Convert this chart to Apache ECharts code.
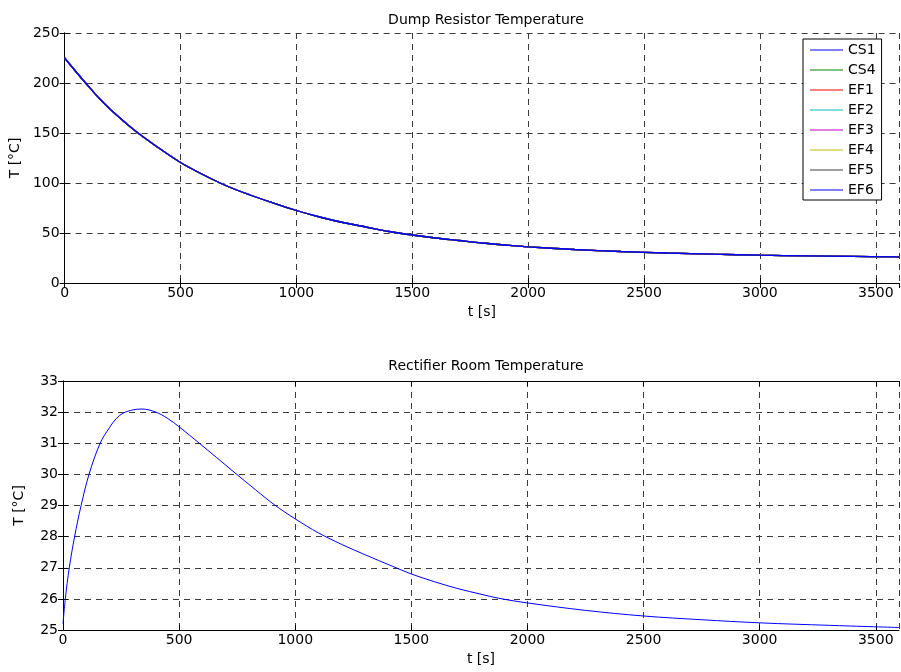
<!DOCTYPE html>
<html>
<head>
<meta charset="utf-8">
<script src="https://cdn.jsdelivr.net/npm/echarts@6/dist/echarts.min.js"></script>
<style>html,body{margin:0;padding:0;background:#fff;}#c{width:901px;height:672px;}</style>
</head>
<body>
<div id="c"></div>
<script>
// ---- data ----
const tTop = [0, 50, 100, 150, 200, 300, 400, 500, 600, 700, 800, 900, 1000, 1100, 1200, 1300, 1400, 1500, 1600, 1700, 1800, 1900, 2000, 2200, 2400, 2600, 2800, 3000, 3200, 3400, 3600];
const dumpTemp = [225, 211, 197.5, 184.5, 173, 153, 136, 120.5, 108, 97, 88, 80, 72.5, 66, 60.5, 56, 51.5, 48, 45, 42.5, 40, 38, 36.2, 33.5, 31.5, 30, 28.8, 27.8, 27.1, 26.6, 26.2];
const tBottom = [0, 10, 27, 50, 78, 112, 160, 200, 230, 260, 300, 340, 400, 450, 500, 587, 660, 745, 830, 909, 1000, 1100, 1200, 1300, 1418, 1500, 1600, 1700, 1800, 1876, 2000, 2250, 2500, 2750, 3000, 3300, 3600];
const roomTemp = [25.2, 26.0, 27.0, 28.0, 29.0, 30.0, 31.0, 31.5, 31.8, 31.97, 32.07, 32.1, 32.0, 31.8, 31.53, 31.0, 30.55, 30.02, 29.5, 29.03, 28.57, 28.12, 27.75, 27.42, 27.05, 26.8, 26.55, 26.33, 26.15, 26.02, 25.87, 25.63, 25.45, 25.33, 25.23, 25.15, 25.08];
const seriesNames = ['CS1', 'CS4', 'EF1', 'EF2', 'EF3', 'EF4', 'EF5', 'EF6'];
const seriesColors = ['#0000ff', '#008000', '#ff0000', '#00bfbf', '#bf00bf', '#bfbf00', '#404040', '#0000ff'];
const xTicksInterval = 500;
const yTopTicks = {min: 0, max: 250, interval: 50};
const yBotTicks = {min: 25, max: 33, interval: 1};

const FONT = 'DejaVu Sans, Liberation Sans, sans-serif';
const FS = 14;
const dumpPairs = tTop.map((t, i) => [t, dumpTemp[i]]);
const roomPairs = tBottom.map((t, i) => [t, roomTemp[i]]);

const gridLine = {show: true, lineStyle: {color: '#3a3a3a', type: [6, 5], width: 1}};
const plain = v => String(v);
function xAx(gi, showName) {
  return {
    type: 'value', gridIndex: gi, min: 0, max: 3600, interval: xTicksInterval,
    name: showName ? 't [s]' : '', nameLocation: 'middle', nameGap: 22,
    nameTextStyle: {color: '#000', fontSize: FS, fontFamily: FONT},
    axisLine: {show: true, lineStyle: {color: '#000', width: 1}},
    axisTick: {show: true, inside: true, length: 5, lineStyle: {color: '#000'}},
    axisLabel: {color: '#000', fontSize: FS, fontFamily: FONT, margin: 3, showMaxLabel: false, formatter: plain},
    splitLine: gridLine
  };
}
function xAxTop(gi) {
  return {
    type: 'value', gridIndex: gi, min: 0, max: 3600, interval: xTicksInterval, position: 'top',
    axisLine: {show: true, lineStyle: {color: '#000', width: 1}},
    axisTick: {show: true, inside: true, length: 5, lineStyle: {color: '#000'}},
    axisLabel: {show: false}, splitLine: {show: false}
  };
}
function yAx(gi, r) {
  return {
    type: 'value', gridIndex: gi, min: r.min, max: r.max, interval: r.interval,
    name: 'T [°C]', nameLocation: 'middle', nameGap: 37, nameRotate: 90,
    nameTextStyle: {color: '#000', fontSize: FS, fontFamily: FONT},
    axisLine: {show: true, lineStyle: {color: '#000', width: 1}},
    axisTick: {show: true, inside: true, length: 5, lineStyle: {color: '#000'}},
    axisLabel: {color: '#000', fontSize: FS, fontFamily: FONT, margin: 5, formatter: plain},
    splitLine: gridLine
  };
}
function yAxRight(gi, r) {
  return {
    type: 'value', gridIndex: gi, min: r.min, max: r.max, interval: r.interval, position: 'right',
    axisLine: {show: true, lineStyle: {color: '#000', width: 1}},
    axisTick: {show: true, inside: true, length: 5, lineStyle: {color: '#000'}},
    axisLabel: {show: false}, splitLine: {show: false}
  };
}

const series = seriesNames.map((n, i) => ({
  name: n, type: 'line', xAxisIndex: 0, yAxisIndex: 0, data: dumpPairs,
  color: seriesColors[i], showSymbol: false, symbol: 'none', smooth: 0.35,
  lineStyle: {width: 1.3, color: seriesColors[i]}, silent: true, animation: false
}));
series.push({
  name: 'Room', type: 'line', xAxisIndex: 2, yAxisIndex: 2, data: roomPairs,
  color: '#0000ff', showSymbol: false, symbol: 'none', smooth: 0.35,
  lineStyle: {width: 1, color: '#0000ff'}, silent: true, animation: false
});

const chart = echarts.init(document.getElementById('c'), null, {renderer: 'canvas'});
chart.setOption({
  backgroundColor: '#fff',
  animation: false,
  title: [
    {text: 'Dump Resistor Temperature', left: 481, top: 8, textAlign: 'center',
     textStyle: {color: '#000', fontSize: FS, fontWeight: 'normal', fontFamily: FONT}},
    {text: 'Rectifier Room Temperature', left: 481, top: 354, textAlign: 'center',
     textStyle: {color: '#000', fontSize: FS, fontWeight: 'normal', fontFamily: FONT}}
  ],
  grid: [
    {left: 63, top: 33, width: 836, height: 250},
    {left: 63, top: 381, width: 836, height: 249}
  ],
  xAxis: [xAx(0, true), xAxTop(0), xAx(1, true), xAxTop(1)],
  yAxis: [yAx(0, yTopTicks), yAxRight(0, yTopTicks), yAx(1, yBotTicks), yAxRight(1, yBotTicks)],
  legend: {
    data: seriesNames.map(n => ({name: n, icon: 'rect'})),
    orient: 'vertical', left: 803, top: 39,
    itemWidth: 33, itemHeight: 1, itemGap: 6,
    padding: [4, 6, 3, 7],
    backgroundColor: '#fff', borderColor: '#000', borderWidth: 1, borderRadius: 0,
    textStyle: {color: '#000', fontSize: FS, fontFamily: FONT},
    selectedMode: false
  },
  series: series
});
</script>
</body>
</html>
